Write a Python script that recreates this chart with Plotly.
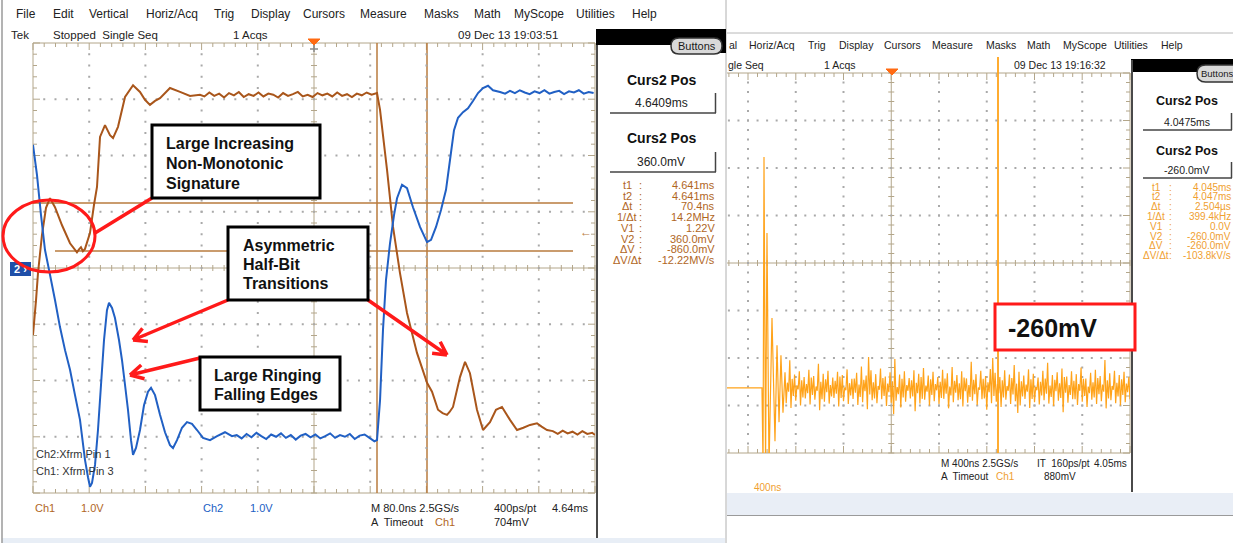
import math
import plotly.graph_objects as go

W, H = 1233, 543
FONT = "Liberation Sans, Arial, sans-serif"

# ---------------- left display: Ch1 (brown) and Ch2 (blue) ----------------
# time in ns (80 ns/div), level in divisions (1 V/div)
ch1_t = [0, 4.3, 7.1, 12.8, 18.5, 24.2, 31.3, 41.3, 52.7, 62.6,
         65.5, 68.3, 71.0, 74.0, 81.1, 86.8, 91.1, 95.4, 102.5, 109.6,
         113.9, 121.0, 131.0, 142.4, 152.3, 159.4, 166.5, 173.7, 180.8, 195.0,
         209.3, 223.5, 237.7]
ch1_v = [-1.19, -0.57, -0.09, 0.59, 1.07, 1.24, 1.08, 0.76, 0.44, 0.28,
         0.33, 0.37, 0.30, 0.34, 0.62, 1.12, 1.44, 2.33, 2.54, 2.36,
         2.31, 2.51, 3.04, 3.25, 3.13, 2.99, 2.90, 2.97, 3.02, 3.20,
         3.13, 3.06, 3.08]
ch1_high_v = [3.05, 3.12, 3.06, 3.10, 3.03, 3.11, 3.07, 3.13, 3.04, 3.09,
              3.06, 3.12, 3.05, 3.10, 3.08, 3.03, 3.11, 3.06, 3.09, 3.13,
              3.05, 3.08, 3.04, 3.11, 3.07, 3.10, 3.05, 3.12, 3.06, 3.09,
              3.04, 3.10, 3.07, 3.12, 3.08]
ch1_fall_t = [489.7, 494, 504, 512.5, 522.4, 532.4, 546.6, 560.9, 568, 576.5,
              583, 589.3, 593, 597.9, 607.8, 615, 622, 632, 640.6, 650.5,
              659, 667.6, 679, 689, 698, 707.5, 717.4, 724, 731.7]
ch1_fall_v = [3.11, 2.81, 1.74, 0.73, -0.09, -0.80, -1.51, -2.04, -2.20, -2.52,
              -2.58, -2.61, -2.56, -2.47, -1.94, -1.67, -1.87, -2.52, -2.88, -2.74,
              -2.52, -2.47, -2.70, -2.88, -2.84, -2.79, -2.76, -2.82, -2.88]
ch1_tail_t = [740, 747, 754, 761, 768, 775, 782, 789, 796, 800]
ch1_tail_v = [-2.90, -2.95, -2.89, -2.94, -2.91, -2.96, -2.90, -2.95, -2.93, -2.97]

ch2_t = [0, 5.7, 11.4, 17.1, 24.2, 31.3, 38.4, 45.6, 52.7, 59.8,
         66.9, 74, 78.3, 81.1, 84, 88.3, 92.5, 96.8, 101.1, 105.3,
         108.2, 112.5, 116.7, 122.4, 126.7, 131, 135.2, 139.5, 142.4, 146.6,
         152.3, 158, 163.7, 168, 173.7, 180.8, 187.9, 195, 199.3, 205,
         212.1, 219.2, 226.3, 233.5, 242, 252, 262, 273.3, 283.3]
ch2_v = [2.19, 1.65, 0.94, 0.32, -0.12, -0.57, -1.05, -1.46, -1.81, -2.26,
         -2.70, -3.41, -3.72, -3.89, -3.82, -3.50, -2.88, -2.08, -1.28, -0.75,
         -0.62, -0.71, -0.89, -1.28, -1.64, -2.08, -2.52, -3.06, -3.32, -3.20,
         -2.88, -2.44, -2.20, -2.13, -2.26, -2.61, -2.92, -3.15, -3.20, -3.06,
         -2.84, -2.74, -2.77, -2.88, -3.02, -3.06, -2.99, -2.92, -2.99]
ch2_low_v = [-2.97, -3.03, -2.95, -3.01, -2.93, -2.99, -3.04, -2.96, -3.00, -2.94,
             -3.02, -2.97, -3.05, -2.98, -2.95, -3.01, -2.96, -3.03, -2.99, -2.94,
             -3.02, -2.97, -3.00, -2.95, -3.04, -2.98, -2.96, -3.02, -3.08]
ch2_rise_t = [489.7, 494, 498.2, 502.5, 508.2, 513.9, 518.2, 525.3, 532.4, 540.9,
              550.9, 560.9, 566.6, 573.7, 580.8, 587.9, 593.6, 599.3, 605, 612.1,
              619.2, 626.3, 633.5, 640.6, 647.7, 654.8, 664.8]
ch2_rise_v = [-3.06, -2.35, -1.10, -0.21, 0.44, 0.94, 1.24, 1.48, 1.42, 1.08,
              0.73, 0.46, 0.50, 0.73, 1.03, 1.39, 1.92, 2.45, 2.67, 2.77,
              2.84, 2.97, 3.11, 3.20, 3.24, 3.16, 3.13]
ch2_high_v = [3.10, 3.15, 3.11, 3.16, 3.12, 3.09, 3.14, 3.11, 3.16, 3.10,
              3.13, 3.15, 3.09, 3.14, 3.12, 3.16, 3.10, 3.13, 3.11]

# ---------------- right display: Ch1 (orange), 400 ns/div, level in divisions ----------------
r_edge_t = [624, 917, 926, 934, 947, 959, 976, 1001, 1026, 1043, 1060, 1076, 1093]
r_edge_v = [-2.63, -2.63, -4.3, 2.23, -4.3, 0.63, -4.3, -1.16, -3.75, -1.73, -3.35, -1.94, -3.15]
# noisy baseline, first record
r_noise_a = [
    -2.30, -2.95, -2.05, -3.05, -2.35, -2.90, -2.28, -3.00, -2.40, -2.85,
    -2.25, -2.98, -2.38, -2.88, -2.12, -3.10, -2.33, -2.92, -2.27, -2.96,
    -2.41, -2.84, -2.29, -3.02, -2.36, -2.91, -2.24, -2.97, -2.44, -2.86,
    -2.31, -2.99, -2.18, -2.93, -2.37, -3.08, -2.26, -2.89, -2.34, -2.95,
    -2.22, -2.87, -2.39, -3.01, -2.30, -2.94, -2.02, -2.90, -2.35, -3.04,
    -2.28, -2.92, -2.42, -2.85, -2.26, -3.12, -2.33, -2.96, -2.21, -2.88,
    -2.37, -3.00, -2.29, -2.91, -2.40, -2.97, -2.25, -2.86, -2.32, -3.06,
    -2.19, -2.93, -2.36, -2.89, -2.28, -3.02, -2.43, -2.94, -2.08, -2.90,
    -2.34, -2.99, -2.27, -2.87, -2.38, -3.09, -2.23, -2.95, -2.31, -2.92,
    -2.40, -3.03, -2.26, -2.88, -2.35, -2.97, -2.15, -2.91, -2.29, -3.00,
    -2.37, -2.86, -2.24, -3.05, -2.33, -2.93, -2.41, -2.98, -2.27, -2.89,
    -2.10, -2.96, -2.36, -3.01, -2.30, -2.90, -2.22, -3.14, -2.39, -2.94,
    -2.28, -2.87, -2.34, -2.99, -2.20, -2.92, -2.43, -3.03, -2.31, -2.88,
    -2.25, -2.97, -2.38, -2.91, -2.04, -3.06, -2.32, -2.89, -2.27, -2.95,
    -2.36, -3.00, -2.29, -2.93, -2.40, -2.87, -2.23, -3.02]
# noisy baseline, second record
r_noise_b = [
    -2.52, -2.71, -2.44, -2.80, -2.58, -2.66, -2.47, -2.83, -2.55, -2.74,
    -2.41, -2.78, -2.60, -2.69, -2.50, -2.87, -2.45, -2.72, -2.57, -2.81,
    -2.48, -2.75, -2.39, -2.84, -2.62, -2.68, -2.53, -2.79, -2.43, -2.73,
    -2.56, -2.82, -2.46, -2.70, -1.98, -2.77, -2.51, -2.85, -2.59, -2.67,
    -2.42, -2.80, -2.54, -2.72, -2.49, -3.18, -2.61, -2.76, -2.44, -2.83,
    -2.57, -2.69, -2.47, -2.81, -2.52, -2.74, -2.40, -2.86, -2.58, -2.71,
    -2.45, -2.78, -2.55, -2.68, -2.50, -2.84, -2.43, -2.75, -2.60, -2.79,
    -2.48, -2.73, -2.53, -2.87, -2.41, -2.70, -2.57, -2.82, -2.46, -2.76,
    -2.62, -2.67, -2.44, -2.85, -2.51, -2.72, -2.00, -2.80, -2.55, -2.74,
    -2.47, -2.83, -2.59, -2.69, -2.42, -2.77, -2.54, -3.16, -2.49, -2.81,
    -2.56, -2.71, -2.45, -2.86, -2.61, -2.68, -2.50, -2.79, -2.43, -2.75,
    -2.58, -2.82, -2.46, -2.70, -2.53, -2.84, -2.40, -2.73, -2.57, -2.78,
    -2.48, -2.87, -2.55, -2.69, -2.44, -2.80, -2.60, -2.74, -2.51, -2.83,
    -2.42, -2.76, -2.56, -2.71, -2.47, -2.85, -2.59, -2.67, -2.52, -2.81,
    -2.45, -2.78, -2.54, -2.72, -2.49, -2.86, -2.58, -2.70]

# cursor readouts
readout_labels = ["t1", "t2", "Δt", "1/Δt", "V1", "V2", "ΔV", "ΔV/Δt"]
left_readouts = ["4.641ms", "4.641ms", "70.4ns", "14.2MHz", "1.22V", "360.0mV", "-860.0mV", "-12.22MV/s"]
right_readouts = ["4.045ms", "4.047ms", "2.504µs", "399.4kHz", "0.0V", "-260.0mV", "-260.0mV", "-103.8kV/s"]

# sample clocks of the flat stretches
ch1_high_t = [244 + 7 * i for i in range(len(ch1_high_v))]
ch2_low_t = [290 + 7 * i for i in range(len(ch2_low_v))]
ch2_high_t = [672 + 7 * i for i in range(len(ch2_high_v))]
# the two records are taken in alternating pairs of samples, 10 ns apart
r_noise_v = []
for i in range(0, len(r_noise_a), 2):
    r_noise_v += r_noise_a[i:i + 2] + r_noise_b[i:i + 2]
r_noise_t = [1110 + 10 * k for k in range(len(r_noise_v))]

BROWN = "#a9561b"
BLUE = "#2160c4"
CURSOR = "#b97b3e"
READ_BROWN = "#b0661e"
ORANGE = "#ffa31a"
READ_ORANGE = "#f0a030"
GRAT = "#b3a68a"

# graticule geometry (pixels)
LX0, LY0, LDX, LDY = 33, 43, 56.2, 56.25
RX0, RY0, RDX, RDY = 652.5, 73, 47.75, 47.5
RCLIP = 727

fig = go.Figure()

# ---- graticule dots on the pixel overlay ----
dx_, dy_ = [], []
for k in range(1, 10):
    if k == 5:
        continue
    for m in range(1, 40):
        dx_.append(LX0 + k * LDX)
        dy_.append(LY0 + m * LDY / 5)
for j in range(1, 8):
    if j == 4:
        continue
    for m in range(1, 50):
        dx_.append(LX0 + m * LDX / 5)
        dy_.append(LY0 + j * LDY)
for k in range(1, 10):
    x = RX0 + k * RDX
    if k == 5 or x < RCLIP:
        continue
    for m in range(1, 40):
        dx_.append(x)
        dy_.append(RY0 + m * RDY / 5)
for j in range(1, 8):
    if j == 4:
        continue
    for m in range(1, 50):
        x = RX0 + m * RDX / 5
        if x < RCLIP:
            continue
        dx_.append(x)
        dy_.append(RY0 + j * RDY)
fig.add_trace(go.Scatter(x=dx_, y=dy_, mode="markers", xaxis="x", yaxis="y",
                         marker=dict(size=2, color="#a9a9a9", symbol="square"),
                         hoverinfo="skip", showlegend=False))

# ---- waveforms ----
fig.add_trace(go.Scatter(x=ch1_t + ch1_high_t + ch1_fall_t + ch1_tail_t,
                         y=ch1_v + ch1_high_v + ch1_fall_v + ch1_tail_v,
                         mode="lines", line=dict(color=BROWN, width=2, simplify=False),
                         xaxis="x2", yaxis="y2", showlegend=False, hoverinfo="skip"))
fig.add_trace(go.Scatter(x=ch2_t + ch2_low_t + ch2_rise_t + ch2_high_t,
                         y=ch2_v + ch2_low_v + ch2_rise_v + ch2_high_v,
                         mode="lines", line=dict(color=BLUE, width=2, simplify=False),
                         xaxis="x2", yaxis="y2", showlegend=False, hoverinfo="skip"))
fig.add_trace(go.Scatter(x=r_edge_t + r_noise_t, y=r_edge_v + r_noise_v,
                         mode="lines", line=dict(color=ORANGE, width=1.2, simplify=False),
                         xaxis="x3", yaxis="y3", showlegend=False, hoverinfo="skip"))

shapes = []
ann = []


def line(x0, y0, x1, y1, color, width=1, layer="below"):
    shapes.append(dict(type="line", xref="x", yref="y", x0=x0, y0=y0, x1=x1, y1=y1,
                       line=dict(color=color, width=width), layer=layer))


def rect(x0, y0, x1, y1, fill, color=None, width=0, layer="below"):
    shapes.append(dict(type="rect", xref="x", yref="y", x0=x0, y0=y0, x1=x1, y1=y1,
                       fillcolor=fill, line=dict(color=color or fill, width=width), layer=layer))


def path(p, color, width=1, fill=None, layer="below"):
    d = dict(type="path", xref="x", yref="y", path=p, line=dict(color=color, width=width), layer=layer)
    if fill:
        d["fillcolor"] = fill
    shapes.append(d)


def txt(x, y, s, size=11, color="#1a1a1a", anchor="left", bold=False):
    ann.append(dict(x=x, y=y, xref="x", yref="y", text=f"<b>{s}</b>" if bold else s,
                    showarrow=False, xanchor=anchor, yanchor="middle",
                    font=dict(family=FONT, size=size, color=color), borderpad=0))


def graticule(x0, y0, dx, dy, xmin):
    x1, y1 = x0 + 10 * dx, y0 + 8 * dy
    xc, yc = x0 + 5 * dx, y0 + 4 * dy
    p = [f"M{xmin},{y0}L{x1},{y0}", f"M{xmin},{y1}L{x1},{y1}", f"M{x1},{y0}L{x1},{y1}",
         f"M{xmin},{yc}L{x1},{yc}", f"M{xc},{y0}L{xc},{y1}"]
    if xmin <= x0:
        p.append(f"M{x0},{y0}L{x0},{y1}")
    for m in range(51):
        x = x0 + m * dx / 5
        if x < xmin:
            continue
        ln = 7 if m % 5 == 0 else 4
        p += [f"M{x:.1f},{y0}L{x:.1f},{y0 + ln}", f"M{x:.1f},{y1}L{x:.1f},{y1 - ln}",
              f"M{x:.1f},{yc - 3}L{x:.1f},{yc + 3}"]
    for m in range(41):
        y = y0 + m * dy / 5
        ln = 7 if m % 5 == 0 else 4
        p += [f"M{x1},{y:.1f}L{x1 - ln},{y:.1f}", f"M{xc - 3},{y:.1f}L{xc + 3},{y:.1f}"]
        if xmin <= x0:
            p.append(f"M{x0},{y:.1f}L{x0 + ln},{y:.1f}")
    path("".join(p), GRAT, 1)


# ---------------- frame / chrome ----------------
rect(2, 538, 725, 543, "#e8eef6")
rect(727, 493, 1233, 515, "#e9eef6")
line(727, 515.5, 1233, 515.5, "#9a9a9a", 1)
line(2, 0, 2, 543, "#9a9a9a", 1.5)
line(726, 0, 726, 543, "#b0b0b0", 1)
line(727, 33, 1233, 33, "#b8b8b8", 1)

# black headers and Buttons pills
rect(596, 29, 726, 45, "#000000")
rect(720, 45, 726, 53, "#000000")
rect(1131, 59, 1233, 72, "#000000")


def pill(x0, y0, x1, y1):
    r = (y1 - y0) / 2
    p = (f"M{x0 + r},{y0}L{x1 - r},{y0}Q{x1},{y0} {x1},{y0 + r}Q{x1},{y1} {x1 - r},{y1}"
         f"L{x0 + r},{y1}Q{x0},{y1} {x0},{y0 + r}Q{x0},{y0} {x0 + r},{y0}Z")
    path(p, "#333333", 1.5, fill="#d9d9d9", layer="above")


pill(671, 38, 722, 54)
pill(1197, 65, 1246, 82)
txt(677, 46, "Buttons", 11)
txt(1200, 73.5, "Buttons", 9.5)

# panel separators
line(597, 45, 597, 538, "#4a4a4a", 2)
line(1132, 60, 1132, 492, "#4a4a4a", 2)

# graticules
graticule(LX0, LY0, LDX, LDY, LX0)
graticule(RX0, RY0, RDX, RDY, RCLIP)

# cursors, left display
line(377, 43, 377, 493, CURSOR, 1.5)
line(427, 43, 427, 493, CURSOR, 1.5)
line(33, 203, 573, 203, CURSOR, 1.5)
line(55, 251, 573, 251, CURSOR, 1.5)
# cursor, right display
line(998, 57, 998, 453, ORANGE, 1.8)

# trigger markers
path("M308,39L320,39L314,45Z", "#ff6a13", 1, fill="#ff6a13", layer="above")
line(314, 45, 314, 52, "#8a8a8a", 1.5, layer="above")
line(310, 49, 318, 49, "#8a8a8a", 1.5, layer="above")
path("M886,69L898,69L892,75Z", "#ff6a13", 1, fill="#ff6a13", layer="above")

# channel 2 ground marker
rect(10, 262, 31, 276, "#1f4fa8", layer="above")
txt(20.5, 269, "2 ›", 11, "#ffffff", anchor="center", bold=True)
txt(586, 232, "←", 12, CURSOR, anchor="center")

# ---------------- menu bars / status lines ----------------
menu_left = [("File", 15), ("Edit", 52), ("Vertical", 88), ("Horiz/Acq", 145), ("Trig", 213),
             ("Display", 250), ("Cursors", 302), ("Measure", 359), ("Masks", 423), ("Math", 473),
             ("MyScope", 513), ("Utilities", 575), ("Help", 631)]
for s, x in menu_left:
    txt(x, 14, s, 12, "#222222")
txt(10, 35, "Tek", 11.5, "#222222")
txt(52, 35, "Stopped  Single Seq", 11.5, "#222222")
txt(232, 35, "1 Acqs", 11.5, "#222222")
txt(457, 35, "09 Dec 13 19:03:51", 11.5, "#222222")

menu_right = [("al", 728), ("Horiz/Acq", 748), ("Trig", 807), ("Display", 838), ("Cursors", 883),
              ("Measure", 931), ("Masks", 985), ("Math", 1026), ("MyScope", 1062),
              ("Utilities", 1113), ("Help", 1160)]
for s, x in menu_right:
    txt(x, 45, s, 10.5, "#222222")
txt(727, 65, "gle Seq", 10.5, "#222222")
txt(823, 65, "1 Acqs", 10.5, "#222222")
txt(1013, 65, "09 Dec 13 19:16:32", 10.5, "#222222")

# ---------------- cursor panels ----------------
txt(661, 80, "Curs2 Pos", 14, "#111111", anchor="center", bold=True)
txt(661, 103, "4.6409ms", 12, "#222222", anchor="center")
line(610, 113, 716, 113, "#444444", 1.5)
line(715.5, 93, 715.5, 113, "#444444", 1.5)
txt(661, 138, "Curs2 Pos", 14, "#111111", anchor="center", bold=True)
txt(661, 162, "360.0mV", 12, "#222222", anchor="center")
line(610, 172, 716, 172, "#444444", 1.5)
line(715.5, 152, 715.5, 172, "#444444", 1.5)
for i, (lab, val) in enumerate(zip(readout_labels, left_readouts)):
    y = 185 + 10.7 * i
    txt(627, y, lab, 11, READ_BROWN, anchor="center")
    txt(640, y, ":", 11, READ_BROWN, anchor="center")
    txt(716, y, val, 11, READ_BROWN, anchor="right")

txt(1187, 101, "Curs2 Pos", 12.5, "#111111", anchor="center", bold=True)
txt(1187, 122, "4.0475ms", 10.5, "#222222", anchor="center")
line(1143, 130, 1232, 130, "#444444", 1.5)
line(1231.5, 113, 1231.5, 130, "#444444", 1.5)
txt(1187, 151, "Curs2 Pos", 12.5, "#111111", anchor="center", bold=True)
txt(1187, 170, "-260.0mV", 10.5, "#222222", anchor="center")
line(1143, 178, 1232, 178, "#444444", 1.5)
line(1231.5, 162, 1231.5, 178, "#444444", 1.5)
for i, (lab, val) in enumerate(zip(readout_labels, right_readouts)):
    y = 187 + 9.8 * i
    txt(1156, y, lab, 10, READ_ORANGE, anchor="center")
    txt(1170, y, ":", 10, READ_ORANGE, anchor="center")
    txt(1232, y, val, 10, READ_ORANGE, anchor="right")

# ---------------- bottom status lines ----------------
txt(35, 454, "Ch2:Xfrm Pin 1", 11, "#333333")
txt(35, 471, "Ch1: Xfrm Pin 3", 11, "#333333")
txt(34, 508, "Ch1", 11, READ_BROWN)
txt(80, 508, "1.0V", 11, READ_BROWN)
txt(202, 508, "Ch2", 11, BLUE)
txt(249, 508, "1.0V", 11, BLUE)
txt(370, 508, "M 80.0ns 2.5GS/s", 11, "#222222")
txt(370, 522, "A  Timeout", 11, "#222222")
txt(434, 522, "Ch1", 11, READ_BROWN)
txt(493, 508, "400ps/pt", 11, "#222222")
txt(551, 508, "4.64ms", 11, "#222222")
txt(493, 522, "704mV", 11, "#222222")

txt(940, 463, "M 400ns 2.5GS/s", 10, "#222222")
txt(940, 476, "A  Timeout", 10, "#222222")
txt(995, 476, "Ch1", 10, READ_ORANGE)
txt(1036, 463, "IT  160ps/pt", 10, "#222222")
txt(1093, 463, "4.05ms", 10, "#222222")
txt(1043, 476, "880mV", 10, "#222222")
txt(753, 487, "400ns", 10, READ_ORANGE)

# ---------------- call-outs ----------------
RED = "#ff1a1a"


def arrow(x0, y0, x1, y1, head=15, ang=28):
    a = math.atan2(y1 - y0, x1 - x0)
    p = f"M{x0},{y0}L{x1},{y1}"
    for s in (1, -1):
        b = a + math.pi + s * math.radians(ang)
        p += f"M{x1},{y1}L{x1 + head * math.cos(b):.1f},{y1 + head * math.sin(b):.1f}"
    path(p, RED, 3.5, layer="above")


path("M152,198L95,233", RED, 3.5, layer="above")
shapes.append(dict(type="circle", xref="x", yref="y", x0=3, y0=200, x1=95, y1=272,
                   line=dict(color=RED, width=3), layer="above"))
arrow(228, 300, 133, 340)
arrow(368, 300, 447, 355)
arrow(200, 358, 130, 375)

rect(152, 125, 320, 198, "#ffffff", "#000000", 3, layer="above")
txt(165, 143, "Large Increasing", 16, "#111111", bold=True)
txt(165, 163, "Non-Monotonic", 16, "#111111", bold=True)
txt(165, 183, "Signature", 16, "#111111", bold=True)

rect(228, 227, 368, 300, "#ffffff", "#000000", 3, layer="above")
txt(242, 245, "Asymmetric", 16, "#111111", bold=True)
txt(242, 264, "Half-Bit", 16, "#111111", bold=True)
txt(242, 283, "Transitions", 16, "#111111", bold=True)

rect(200, 357, 340, 410, "#ffffff", "#000000", 3, layer="above")
txt(213, 375, "Large Ringing", 16, "#111111", bold=True)
txt(213, 394, "Falling Edges", 16, "#111111", bold=True)

rect(995, 304, 1135, 350, "#ffffff", RED, 3, layer="above")
txt(1007, 328, "-260mV", 25, "#111111", bold=True)

# ---------------- layout ----------------
hid = dict(visible=False, fixedrange=True, showgrid=False, zeroline=False)
fig.update_layout(
    width=W, height=H, margin=dict(l=0, r=0, t=0, b=0),
    paper_bgcolor="#ffffff", plot_bgcolor="rgba(0,0,0,0)", showlegend=False,
    xaxis=dict(domain=[0, 1], range=[0, W], **hid),
    yaxis=dict(domain=[0, 1], range=[H, 0], **hid),
    xaxis2=dict(domain=[LX0 / W, (LX0 + 10 * LDX) / W], range=[0, 800], anchor="y2", **hid),
    yaxis2=dict(domain=[1 - (LY0 + 8 * LDY) / H, 1 - LY0 / H], range=[-4, 4], anchor="x2", **hid),
    xaxis3=dict(domain=[RCLIP / W, (RX0 + 10 * RDX) / W],
                range=[(RCLIP - RX0) / RDX * 400, 4000], anchor="y3", **hid),
    yaxis3=dict(domain=[1 - (RY0 + 8 * RDY) / H, 1 - RY0 / H], range=[-4, 4], anchor="x3", **hid),
    shapes=shapes, annotations=ann,
)

fig.write_html("out.html", config={"displayModeBar": False})
